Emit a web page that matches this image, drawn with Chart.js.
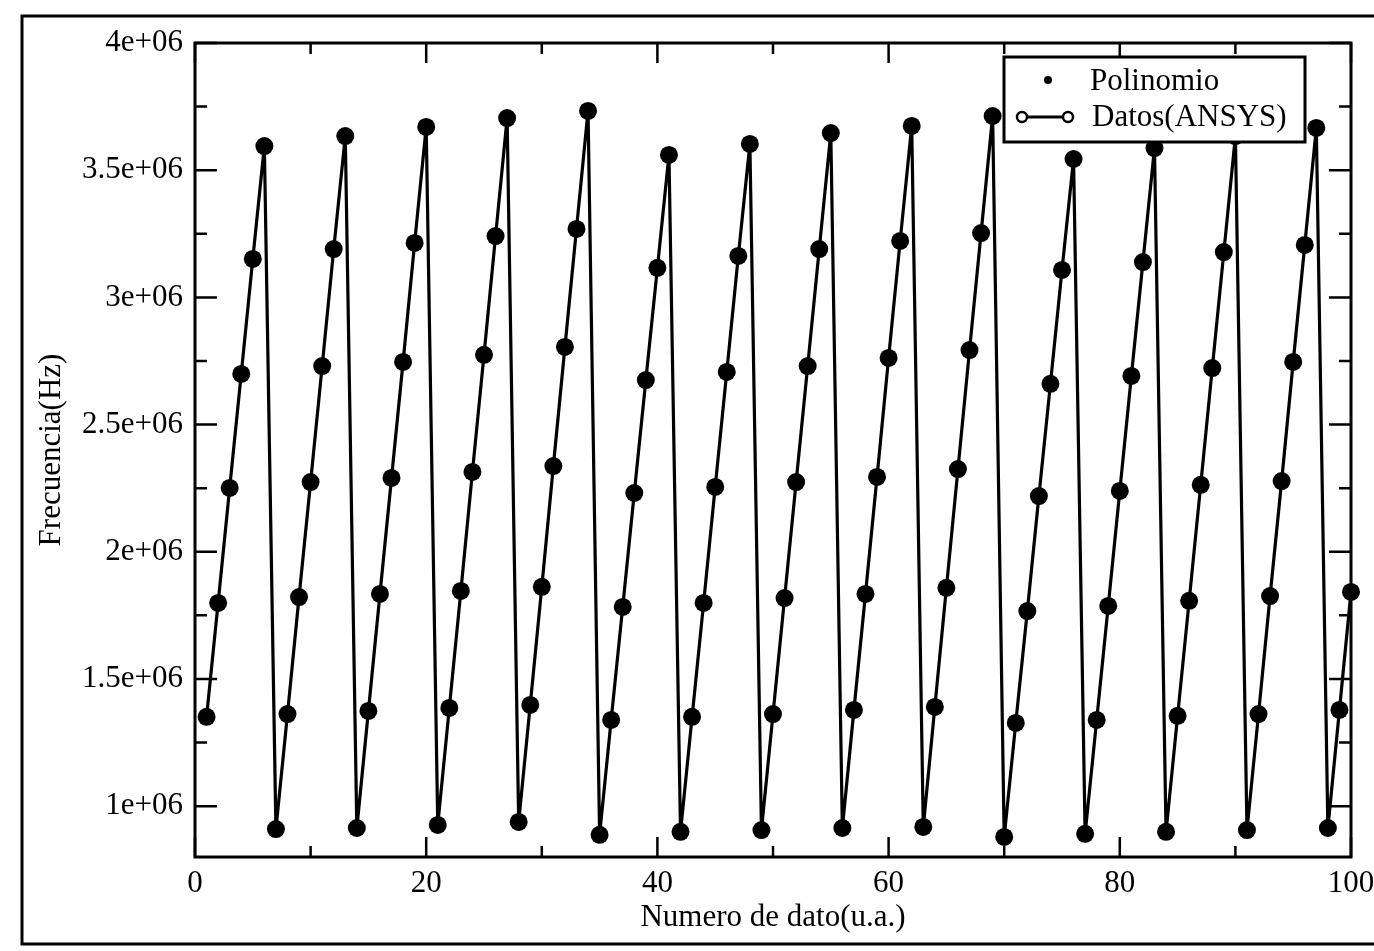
<!DOCTYPE html>
<html>
<head>
<meta charset="utf-8">
<script src="https://cdn.jsdelivr.net/npm/chart.js@4/dist/chart.umd.min.js"></script>
<style>
  html, body { margin: 0; background: #fff; }
  #wrap { width: 1374px; height: 951px; position: relative; }
</style>
</head>
<body>
<div id="wrap"><canvas id="chart" width="1374" height="951"></canvas></div>
<script>
// Frecuencia (Hz) para cada numero de dato 1..100
const frecuencia = [
  1.351e6, 1.799e6, 2.251e6, 2.699e6, 3.151e6, 3.595e6,
  0.910e6, 1.362e6, 1.822e6, 2.274e6, 2.730e6, 3.190e6, 3.634e6,
  0.914e6, 1.374e6, 1.834e6, 2.290e6, 2.746e6, 3.214e6, 3.670e6,
  0.926e6, 1.386e6, 1.846e6, 2.314e6, 2.774e6, 3.241e6, 3.705e6,
  0.938e6, 1.398e6, 1.862e6, 2.337e6, 2.805e6, 3.269e6, 3.733e6,
  0.887e6, 1.339e6, 1.783e6, 2.231e6, 2.675e6, 3.116e6, 3.560e6,
  0.899e6, 1.351e6, 1.799e6, 2.255e6, 2.707e6, 3.163e6, 3.603e6,
  0.906e6, 1.362e6, 1.818e6, 2.274e6, 2.730e6, 3.190e6, 3.646e6,
  0.914e6, 1.378e6, 1.834e6, 2.294e6, 2.762e6, 3.222e6, 3.674e6,
  0.918e6, 1.390e6, 1.858e6, 2.325e6, 2.793e6, 3.253e6, 3.713e6,
  0.879e6, 1.327e6, 1.767e6, 2.219e6, 2.660e6, 3.108e6, 3.544e6,
  0.891e6, 1.339e6, 1.787e6, 2.239e6, 2.691e6, 3.139e6, 3.587e6,
  0.899e6, 1.355e6, 1.807e6, 2.263e6, 2.722e6, 3.178e6, 3.634e6,
  0.906e6, 1.362e6, 1.826e6, 2.278e6, 2.746e6, 3.206e6, 3.666e6,
  0.914e6, 1.378e6, 1.842e6
];

const xTickValues = [0, 20, 40, 60, 80, 100];
const xTickLabels = ['0', '20', '40', '60', '80', '100'];
const xMinorTicks = [10, 30, 50, 70, 90];
const yTickValues = [1e6, 1.5e6, 2e6, 2.5e6, 3e6, 3.5e6, 4e6];
const yTickLabels = ['1e+06', '1.5e+06', '2e+06', '2.5e+06', '3e+06', '3.5e+06', '4e+06'];
const yMinorTicks = [0.75e6, 1.25e6, 1.75e6, 2.25e6, 2.75e6, 3.25e6, 3.75e6];

const serif = "'Liberation Serif', 'DejaVu Serif', serif";
const labelFont = { family: serif, size: 31 };

const puntos = frecuencia.map((v, i) => ({ x: i + 1, y: v }));

// marco exterior, caja del grafico, ticks hacia adentro y leyenda
const framePlugin = {
  id: 'frame',
  beforeDraw(chart) {
    const ctx = chart.ctx;
    ctx.save();
    ctx.strokeStyle = '#000';
    ctx.lineWidth = 3;
    ctx.strokeRect(22, 16, 1400, 928);
    ctx.restore();
  },
  afterDatasetsDraw(chart) {
    const ctx = chart.ctx;
    const a = chart.chartArea;
    const xs = chart.scales.x, ys = chart.scales.y;
    ctx.save();
    ctx.strokeStyle = '#000';
    ctx.lineWidth = 3;
    ctx.strokeRect(a.left, a.top, a.right - a.left, a.bottom - a.top);

    ctx.lineWidth = 2.5;
    ctx.beginPath();
    const yTick = (v, len) => {
      const py = ys.getPixelForValue(v);
      ctx.moveTo(a.left, py); ctx.lineTo(a.left + len, py);
      ctx.moveTo(a.right, py); ctx.lineTo(a.right - len, py);
    };
    const xTick = (v, len) => {
      const px = xs.getPixelForValue(v);
      ctx.moveTo(px, a.bottom); ctx.lineTo(px, a.bottom - len);
      ctx.moveTo(px, a.top); ctx.lineTo(px, a.top + len);
    };
    yTickValues.forEach(v => yTick(v, 22));
    yMinorTicks.filter(v => v > ys.min).forEach(v => yTick(v, 12));
    xTickValues.forEach(v => xTick(v, 20));
    xMinorTicks.forEach(v => xTick(v, 11));
    ctx.stroke();

    // leyenda
    const lx = 1004, ly = 57, lw = 301, lh = 85;
    ctx.fillStyle = '#fff';
    ctx.fillRect(lx, ly, lw, lh);
    ctx.lineWidth = 3;
    ctx.strokeRect(lx, ly, lw, lh);
    ctx.fillStyle = '#000';
    ctx.beginPath();
    ctx.arc(1048, 80, 4, 0, Math.PI * 2);
    ctx.fill();
    ctx.beginPath();
    ctx.moveTo(1027, 117); ctx.lineTo(1064, 117);
    ctx.stroke();
    ctx.lineWidth = 2.5;
    [1022, 1068].forEach(cx => {
      ctx.beginPath();
      ctx.arc(cx, 117, 5, 0, Math.PI * 2);
      ctx.fillStyle = '#fff';
      ctx.fill();
      ctx.stroke();
    });
    ctx.fillStyle = '#000';
    ctx.font = `31px ${serif}`;
    ctx.textBaseline = 'middle';
    ctx.textAlign = 'left';
    ctx.fillText('Polinomio', 1090, 82);
    ctx.fillText('Datos(ANSYS)', 1092, 118);
    ctx.restore();
  }
};

new Chart(document.getElementById('chart'), {
  type: 'line',
  data: {
    datasets: [
      {
        label: 'Datos(ANSYS)',
        data: puntos,
        borderColor: '#000',
        backgroundColor: '#000',
        borderWidth: 3.2,
        pointRadius: 9,
        pointBorderWidth: 0,
        pointBackgroundColor: '#000',
        tension: 0,
        clip: false
      },
      {
        label: 'Polinomio',
        data: puntos,
        showLine: false,
        pointRadius: 3,
        pointBackgroundColor: '#000',
        pointBorderWidth: 0,
        clip: false
      }
    ]
  },
  options: {
    responsive: false,
    animation: false,
    devicePixelRatio: 1,
    layout: { padding: { top: 43, right: 23, left: 0, bottom: 0 } },
    plugins: {
      legend: { display: false },
      tooltip: { enabled: false }
    },
    scales: {
      x: {
        type: 'linear',
        min: 0,
        max: 100,
        afterBuildTicks: s => { s.ticks = xTickValues.map(v => ({ value: v })); },
        afterFit: s => { s.height = 94; s.paddingLeft = 0; s.paddingRight = 0; },
        grid: { display: false, drawTicks: false },
        border: { display: false },
        ticks: {
          autoSkip: false,
          maxRotation: 0,
          padding: 8,
          color: '#000',
          font: labelFont,
          callback: (v, i) => xTickLabels[i]
        },
        title: {
          display: true,
          text: 'Numero de dato(u.a.)',
          color: '#000',
          font: labelFont,
          padding: { top: 0, bottom: 15 }
        }
      },
      y: {
        type: 'linear',
        min: 0.8e6,
        max: 4e6,
        afterBuildTicks: s => { s.ticks = yTickValues.map(v => ({ value: v })); },
        afterFit: s => { s.width = 195; s.paddingTop = 0; s.paddingBottom = 0; },
        grid: { display: false, drawTicks: false },
        border: { display: false },
        ticks: {
          autoSkip: false,
          padding: 12,
          color: '#000',
          font: labelFont,
          callback: (v, i) => yTickLabels[i]
        },
        title: {
          display: true,
          text: 'Frecuencia(Hz)',
          color: '#000',
          font: { family: serif, size: 31 },
          padding: { top: 33, bottom: 0 }
        }
      }
    }
  },
  plugins: [framePlugin]
});
</script>
</body>
</html>
